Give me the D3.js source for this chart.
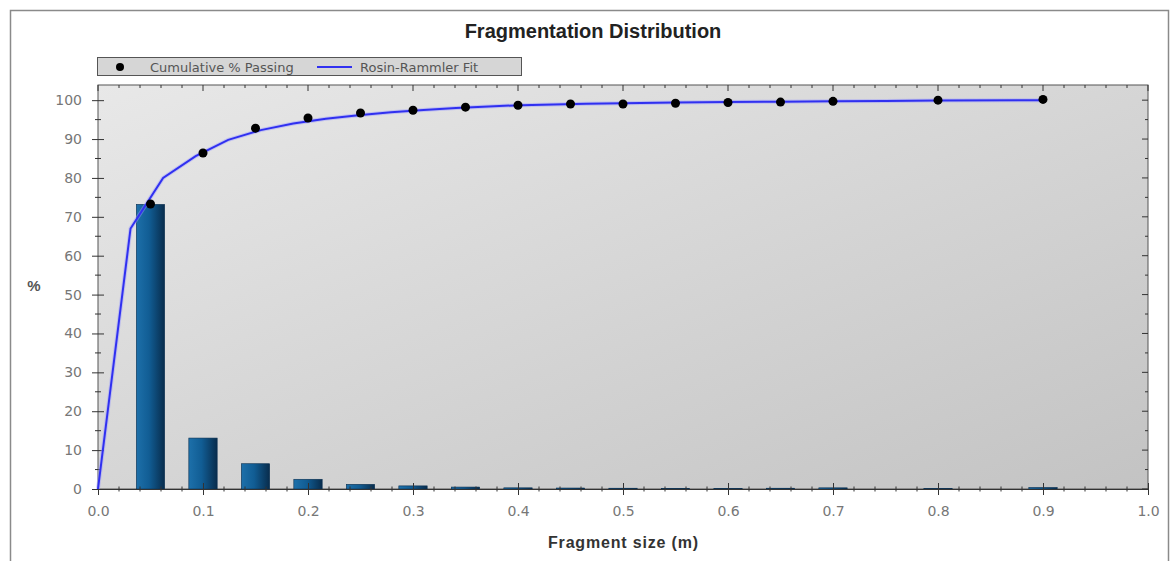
<!DOCTYPE html>
<html>
<head>
<meta charset="utf-8">
<script src="https://cdn.jsdelivr.net/npm/d3@7"></script>
<style>
  body { margin: 0; background: #fff; }
  svg text { font-family: "Liberation Sans", Arial, sans-serif; }
  svg .tick text, svg .legend text { font-family: "DejaVu Sans", Verdana, sans-serif; }
</style>
</head>
<body>
<svg id="chart" width="1174" height="561"></svg>
<script>
// fragment size classes (m) and % retained in each class
let binSizes = [0.05, 0.1, 0.15, 0.2, 0.25, 0.3, 0.35, 0.4, 0.45, 0.5, 0.55, 0.6, 0.65, 0.7, 0.8, 0.9];
let binPercent = [73.2, 13.1, 6.5, 2.5, 1.2, 0.8, 0.5, 0.3, 0.25, 0.2, 0.1, 0.1, 0.2, 0.3, 0.1, 0.4];

// cumulative % passing
let cumSizes = [0.05, 0.1, 0.15, 0.2, 0.25, 0.3, 0.35, 0.4, 0.45, 0.5, 0.55, 0.6, 0.65, 0.7, 0.8, 0.9];
let cumPassing = [73.3, 86.4, 92.8, 95.4, 96.7, 97.4, 98.2, 98.7, 99.0, 99.0, 99.2, 99.4, 99.5, 99.7, 100.0, 100.2];

// Rosin-Rammler fit curve
let fitSizes = [0, 0.031, 0.062, 0.093, 0.124, 0.155, 0.186, 0.217, 0.248, 0.279, 0.31, 0.341, 0.372, 0.403, 0.434, 0.465, 0.5, 0.55, 0.6, 0.65, 0.7, 0.75, 0.8, 0.9];
let fitPassing = [0, 67, 80, 85.6, 89.8, 92.3, 94, 95.2, 96.1, 96.9, 97.5, 98, 98.4, 98.7, 98.9, 99.1, 99.2, 99.4, 99.5, 99.6, 99.7, 99.8, 99.9, 100];

let xTicks = [0, 0.1, 0.2, 0.3, 0.4, 0.5, 0.6, 0.7, 0.8, 0.9, 1.0];
let yTicks = [0, 10, 20, 30, 40, 50, 60, 70, 80, 90, 100];

let svg = d3.select("#chart");
let pLeft = 98, pRight = 1148, pTop = 85, pBottom = 489;

let x = d3.scaleLinear().domain([0, 1]).range([pLeft, pRight]);
let y = d3.scaleLinear().domain([0, 103.9]).range([pBottom, pTop]);

let defs = svg.append("defs");
let bg = defs.append("linearGradient").attr("id", "bg")
    .attr("x1", "0%").attr("y1", "0%").attr("x2", "100%").attr("y2", "100%");
bg.append("stop").attr("offset", "0%").attr("stop-color", "#e8e8e8");
bg.append("stop").attr("offset", "100%").attr("stop-color", "#c3c3c3");

let barGrad = defs.append("linearGradient").attr("id", "barGrad")
    .attr("x1", "0%").attr("y1", "0%").attr("x2", "100%").attr("y2", "0%");
barGrad.append("stop").attr("offset", "0%").attr("stop-color", "#1d70aa");
barGrad.append("stop").attr("offset", "45%").attr("stop-color", "#115d94");
barGrad.append("stop").attr("offset", "100%").attr("stop-color", "#082c4c");

// outer frame
svg.append("rect").attr("x", 10.5).attr("y", 10.5).attr("width", 1158).attr("height", 570)
    .attr("fill", "#fff").attr("stroke", "#8a8a8a").attr("stroke-width", 1.5);

svg.append("text").attr("x", 593).attr("y", 38).attr("text-anchor", "middle")
    .attr("font-size", 20).attr("font-weight", "bold").attr("fill", "#222")
    .text("Fragmentation Distribution");

// plot area
svg.append("rect").attr("x", pLeft).attr("y", pTop).attr("width", pRight - pLeft).attr("height", pBottom - pTop)
    .attr("fill", "url(#bg)").attr("stroke", "#555").attr("stroke-width", 1);

// bars
let barW = x(0.027) - x(0);
svg.append("g").selectAll("rect").data(binSizes).join("rect")
    .attr("x", (d) => x(d) - barW / 2)
    .attr("y", (d, i) => y(binPercent[i]))
    .attr("width", barW)
    .attr("height", (d, i) => pBottom - y(binPercent[i]))
    .attr("fill", "url(#barGrad)")
    .attr("stroke", "#0a2f50").attr("stroke-width", 0.6);

// axes
let xAxis = d3.axisBottom(x).tickValues(xTicks).tickFormat(d3.format(".1f")).tickSize(6).tickPadding(11);
let gx = svg.append("g").attr("transform", "translate(0," + pBottom + ")").call(xAxis);
gx.select(".domain").attr("stroke", "#333");
gx.selectAll(".tick line").attr("y1", -6).attr("stroke", "#333");
gx.selectAll("text").attr("font-size", 14).attr("fill", "#777");

let xMinor = d3.range(0.02, 1, 0.02).filter((d) => Math.abs(d * 10 - Math.round(d * 10)) > 1e-6);
svg.append("g").selectAll("line").data(xMinor).join("line")
    .attr("x1", (d) => x(d)).attr("x2", (d) => x(d))
    .attr("y1", pBottom - 2.5).attr("y2", pBottom + 2.5).attr("stroke", "#333");
svg.append("g").selectAll("line").data(xMinor.concat(xTicks)).join("line")
    .attr("x1", (d) => x(d)).attr("x2", (d) => x(d))
    .attr("y1", pTop).attr("y2", (d) => pTop + (xTicks.includes(d) ? 6 : 3)).attr("stroke", "#333");

let yAxis = d3.axisLeft(y).tickValues(yTicks).tickSize(6).tickPadding(10);
let gy = svg.append("g").attr("transform", "translate(" + pLeft + ",0)").call(yAxis);
gy.select(".domain").remove();
gy.selectAll(".tick line").attr("x2", 6).attr("x1", -6).attr("stroke", "#333");
gy.selectAll("text").attr("font-size", 14).attr("fill", "#777");

let yMinor = d3.range(5, 100, 10);
svg.append("g").selectAll("line").data(yMinor).join("line")
    .attr("x1", pLeft - 3).attr("x2", pLeft + 3)
    .attr("y1", (d) => y(d)).attr("y2", (d) => y(d)).attr("stroke", "#333");
svg.append("g").selectAll("line").data(yMinor.concat(yTicks)).join("line")
    .attr("x1", pRight).attr("x2", (d) => pRight - (yTicks.includes(d) ? 6 : 3))
    .attr("y1", (d) => y(d)).attr("y2", (d) => y(d)).attr("stroke", "#333");

svg.append("text").attr("x", 34).attr("y", 291).attr("text-anchor", "middle")
    .attr("font-size", 15).attr("font-weight", "bold").attr("fill", "#555").text("%");
svg.append("text").attr("x", 623).attr("y", 548).attr("text-anchor", "middle")
    .attr("font-size", 16).attr("font-weight", "bold").attr("fill", "#333")
    .attr("textLength", 150).attr("lengthAdjust", "spacing").text("Fragment size (m)");

// fit line
let line = d3.line().x((d) => x(d)).y((d, i) => y(fitPassing[i]));
svg.append("path").datum(fitSizes).attr("d", line)
    .attr("fill", "none").attr("stroke", "#9a9aff").attr("stroke-width", 4).attr("opacity", 0.45);
svg.append("path").datum(fitSizes).attr("d", line)
    .attr("fill", "none").attr("stroke", "#3030f0").attr("stroke-width", 2);

// cumulative points
svg.append("g").selectAll("circle").data(cumSizes).join("circle")
    .attr("cx", (d) => x(d)).attr("cy", (d, i) => y(cumPassing[i]))
    .attr("r", 4.5).attr("fill", "#000");

// legend
let lg = svg.append("g").attr("class", "legend");
lg.append("rect").attr("x", 97.5).attr("y", 57.5).attr("width", 424).attr("height", 18)
    .attr("fill", "#d6d6d6").attr("stroke", "#555");
lg.append("circle").attr("cx", 120).attr("cy", 67).attr("r", 4).attr("fill", "#000");
lg.append("text").attr("x", 150).attr("y", 71.5).attr("font-size", 13).attr("fill", "#555")
    .text("Cumulative % Passing");
lg.append("line").attr("x1", 317).attr("x2", 352).attr("y1", 67).attr("y2", 67)
    .attr("stroke", "#3030f0").attr("stroke-width", 2);
lg.append("text").attr("x", 360).attr("y", 71.5).attr("font-size", 13).attr("fill", "#555")
    .text("Rosin-Rammler Fit");
</script>
</body>
</html>
